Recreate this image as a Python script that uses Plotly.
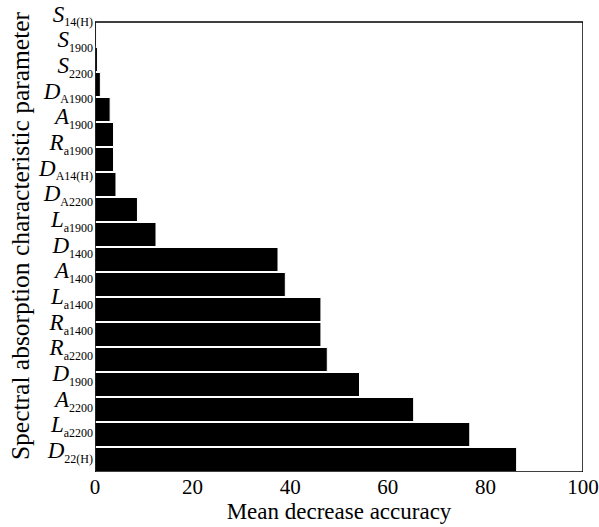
import plotly.graph_objects as go

# categories listed top to bottom
categories = ["S|14(H)", "S|1900", "S|2200", "D|A1900", "A|1900", "R|a1900",
              "D|A14(H)", "D|A2200", "L|a1900", "D|1400", "A|1400", "L|a1400",
              "R|a1400", "R|a2200", "D|1900", "A|2200", "L|a2200", "D|22(H)"]
values = [0.3, 0.5, 1.1, 3.1, 3.8, 3.8, 4.3, 8.7, 12.5, 37.5, 39.0, 46.3,
          46.3, 47.6, 54.2, 65.3, 76.8, 86.4]
x_ticks = [0, 20, 40, 60, 80, 100]

labels = []
for c in categories:
    main, sub = c.split("|")
    labels.append(f"<i>{main}</i><sub><span style='font-size:12px'>{sub}</span></sub>")

n = len(categories)
fig = go.Figure()
fig.add_trace(go.Bar(
    x=values, y=list(range(n)), orientation="h",
    marker=dict(color="black", line=dict(color="white", width=1)),
    hovertext=categories,
))
# invisible helper trace so the label axis is drawn
fig.add_trace(go.Scatter(
    x=[None] * n, y=list(range(n)), yaxis="y2",
    mode="markers", marker=dict(opacity=0), hoverinfo="skip", showlegend=False,
))

font_family = "Liberation Serif"
fig.update_layout(
    width=599, height=527,
    margin=dict(l=95, r=16, t=0, b=55),
    paper_bgcolor="white", plot_bgcolor="white",
    bargap=0.04,
    showlegend=False,
    font=dict(family=font_family, color="black"),
)
fig.update_xaxes(
    range=[0, 100], tickvals=x_ticks,
    showgrid=False, zeroline=False, automargin=False,
    showline=False,
    ticks="", tickfont=dict(size=21, family=font_family),
    title=dict(text="Mean decrease accuracy", font=dict(size=23, family=font_family), standoff=0),
)
fig.update_yaxes(
    range=[n - 0.5, -1.38], automargin=False,
    showgrid=False, zeroline=False, showticklabels=False,
    showline=False, ticks="",
)
# label axis (tick labels are spread slightly wider than the bars, as in the original)
fig.update_layout(yaxis2=dict(
    overlaying="y", side="left", automargin=False,
    range=[17.854, -0.526], tickvals=list(range(n)), ticktext=labels,
    showgrid=False, zeroline=False, showline=False, ticks="", ticklabelstandoff=1,
    tickfont=dict(size=23, family=font_family),
    title=dict(text="Spectral absorption characteristic parameter",
               font=dict(size=25.5, family=font_family), standoff=1),
))
# plot frame around the category bands
fig.add_shape(type="rect", xref="x", yref="y", x0=0, x1=100, y0=-0.5, y1=n - 0.5,
              line=dict(color="black", width=1.5), fillcolor="rgba(0,0,0,0)", layer="above")
fig.write_html("out.html", config={"displayModeBar": False},
               post_script="document.body.style.margin='0';document.body.style.overflow='hidden';")
